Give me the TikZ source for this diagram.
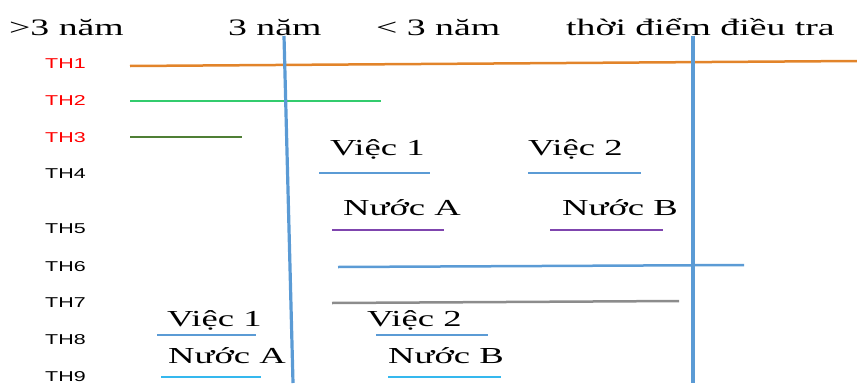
\documentclass[tikz,border=0pt]{standalone}
\usepackage{fontspec}
\setmainfont[FakeStretch=1.6]{Liberation Serif}
\setsansfont[FakeStretch=1.5]{Liberation Sans}
\definecolor{axisblue}{HTML}{5B9BD5}
\definecolor{barorange}{HTML}{E2842A}
\definecolor{bargreen}{HTML}{33CC6E}
\definecolor{bardkgreen}{HTML}{4F7F35}
\definecolor{barpurple}{HTML}{7F45AE}
\definecolor{bargray}{HTML}{8C8C8C}
\definecolor{barcyan}{HTML}{35B8EE}
\tikzset{
  thlabel/.style={anchor=base west,inner sep=0pt,font=\sffamily\fontsize{14.3}{16}\selectfont},
  txt/.style={anchor=base west,inner sep=0pt,font=\fontsize{22.9}{26}\selectfont},
  head/.style={txt,font=\fontsize{23.6}{26}\selectfont},
  bar/.style={line width=2.5pt},
  axis/.style={line width=3.2pt,draw=axisblue}
}
\begin{document}
\begin{tikzpicture}[x=1pt,y=-1pt]
  \useasboundingbox (0,0) rectangle (857,383);
  % time headings
  \draw
    (9,35) node[head] (old){>3 năm}
    (228,35) node[head] (three){3 năm}
    (376,35) node[head] (recent){< 3 năm}
    (566,35) node[head] (survey){thời điểm điều tra};
  % cases
  \draw
    (45,68) node[thlabel,red] (th1){TH1}
    (45,105) node[thlabel,red] (th2){TH2}
    (45,142) node[thlabel,red] (th3){TH3}
    (45,178) node[thlabel] (th4){TH4}
    (45,233) node[thlabel] (th5){TH5}
    (45,271) node[thlabel] (th6){TH6}
    (45,307) node[thlabel] (th7){TH7}
    (45,344) node[thlabel] (th8){TH8}
    (45,381) node[thlabel] (th9){TH9};
  % bar labels
  \draw
    (330,155) node[txt] (job1){Việc 1}
    (528,155) node[txt] (job2){Việc 2}
    (343,215) node[txt] (landA){Nước A}
    (562,215) node[txt] (landB){Nước B}
    (167,326) node[txt] (job1old){Việc 1}
    (367,326) node[txt] (job2old){Việc 2}
    (168,363) node[txt] (landAold){Nước A}
    (388,363) node[txt] (landBold){Nước B};
  % bar ends
  \coordinate (t1s) at (130,66);  \coordinate (t1e) at (857,61);
  \coordinate (t2s) at (130,101); \coordinate (t2e) at (381,101);
  \coordinate (t3s) at (130,137); \coordinate (t3e) at (242,137);
  \coordinate (j1s) at (319,173); \coordinate (j1e) at (430,173);
  \coordinate (j2s) at (528,173); \coordinate (j2e) at (641,173);
  \coordinate (aS) at (332,230);  \coordinate (aE) at (444,230);
  \coordinate (bS) at (550,230);  \coordinate (bE) at (663,230);
  \coordinate (t6s) at (338,267); \coordinate (t6e) at (744,265);
  \coordinate (t7s) at (332,303); \coordinate (t7e) at (679,301);
  \coordinate (o1s) at (157,335); \coordinate (o1e) at (256,335);
  \coordinate (o2s) at (376,335); \coordinate (o2e) at (488,335);
  \coordinate (oAs) at (161,377); \coordinate (oAe) at (261,377);
  \coordinate (oBs) at (388,377); \coordinate (oBe) at (501,377);
  \coordinate (m3top) at (284,36); \coordinate (m3bot) at (293,383);
  \coordinate (nowtop) at (693,36); \coordinate (nowbot) at (693,383);
  \begin{scope}[bar]
    \draw[barorange] (t1s) to (t1e);
    \draw[bargreen] (t2s) to (t2e);
    \draw[bardkgreen] (t3s) to (t3e);
    \draw[axisblue] (j1s) to (j1e);
    \draw[axisblue] (j2s) to (j2e);
    \draw[barpurple] (aS) to (aE);
    \draw[barpurple] (bS) to (bE);
    \draw[axisblue] (t6s) to (t6e);
    \draw[bargray] (t7s) to (t7e);
    \draw[axisblue] (o1s) to (o1e);
    \draw[axisblue] (o2s) to (o2e);
    \draw[barcyan] (oAs) to (oAe);
    \draw[barcyan] (oBs) to (oBe);
  \end{scope}
  \draw[axis] (m3top) to (m3bot);
  \draw[axis] (nowtop) to (nowbot);
\end{tikzpicture}
\end{document}
